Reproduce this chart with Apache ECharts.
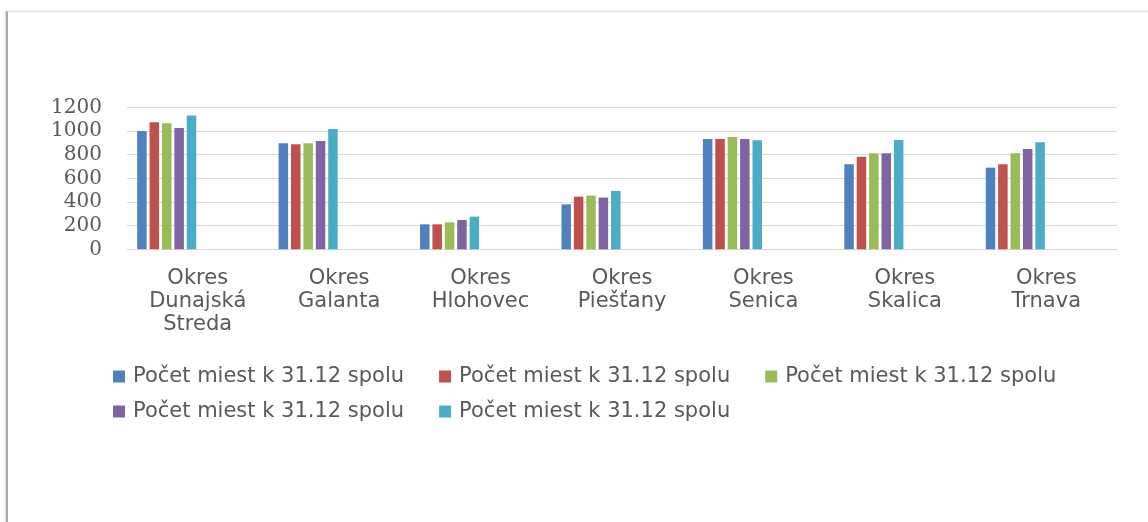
<!DOCTYPE html>
<html>
<head>
<meta charset="utf-8">
<script src="https://cdn.jsdelivr.net/npm/echarts@6/dist/echarts.min.js"></script>
<style>
  html, body { margin: 0; padding: 0; background: #ffffff; }
  #frame { position: absolute; left: 6px; top: 11px; width: 1160px; height: 530px;
           border-left: 2px solid #a8a8a8; border-top: 1px solid #e4e4e4;
           box-shadow: -1px 0 2px #d0d0d0; }
  #chart { position: absolute; left: 0; top: 0; width: 1148px; height: 522px; }
</style>
</head>
<body>
<div id="frame"></div>
<div id="chart"></div>
<script>
const categories = [
  "Okres\nDunajská\nStreda", "Okres\nGalanta", "Okres\nHlohovec", "Okres\nPiešťany",
  "Okres\nSenica", "Okres\nSkalica", "Okres\nTrnava"
];
const seriesLabel = "Počet miest k 31.12 spolu";
const series1 = [1000, 896, 211, 380, 932, 718, 690];
const series2 = [1073, 887, 211, 445, 932, 783, 718];
const series3 = [1065, 896, 228, 454, 949, 811, 811];
const series4 = [1025, 915, 248, 437, 932, 811, 848];
const series5 = [1130, 1017, 276, 493, 921, 924, 904];
// empty series slots (present in the source chart, without data)
const emptySlot = [null, null, null, null, null, null, null];
const yTicks = { min: 0, max: 1200, interval: 200 };

const colors = ['#4F81BD', '#C0504D', '#9BBB59', '#8064A2', '#4BACC6'];
const values = [series1, series2, series3, series4, series5];
const names = ['s1', 's2', 's3', 's4', 's5'];

const series = [];
values.forEach((v, i) => {
  series.push({ name: names[i], type: 'bar', data: v, barWidth: 9.5, barGap: '30.5%',
    itemStyle: { color: colors[i] }, emphasis: { disabled: true } });
});
for (let k = 0; k < 5; k++) {
  series.push({ name: 'e' + k, type: 'bar', data: emptySlot, barWidth: 9.5, barGap: '30.5%' });
}

const chart = echarts.init(document.getElementById('chart'), null, { renderer: 'canvas' });
chart.setOption({
  animation: false,
  backgroundColor: 'transparent',
  grid: { left: 127, right: 31, top: 107.3, bottom: 272.7, containLabel: false },
  xAxis: {
    type: 'category', data: categories,
    axisLine: { show: true, lineStyle: { color: '#d9d9d9', width: 1 } },
    axisTick: { show: false },
    axisLabel: { color: '#595959', fontFamily: 'DejaVu Sans', fontSize: 21, lineHeight: 23,
      margin: 18, interval: 0 }
  },
  yAxis: {
    type: 'value', min: yTicks.min, max: yTicks.max, interval: yTicks.interval,
    axisLine: { show: false }, axisTick: { show: false },
    splitLine: { lineStyle: { color: '#d9d9d9', width: 1 } },
    axisLabel: { color: '#595959', fontFamily: 'DejaVu Serif', fontSize: 20, margin: 25,
      formatter: function (v) { return String(v); } }
  },
  legend: {
    data: names, left: 108, top: 361, width: 1020, orient: 'horizontal',
    itemWidth: 12, itemHeight: 12, itemGap: 14,
    icon: 'rect',
    formatter: function () { return seriesLabel; },
    textStyle: { color: '#595959', fontFamily: 'DejaVu Sans', fontSize: 21, lineHeight: 14, padding: [0, 21, 0, 3] }
  },
  series: series
});
</script>
</body>
</html>
